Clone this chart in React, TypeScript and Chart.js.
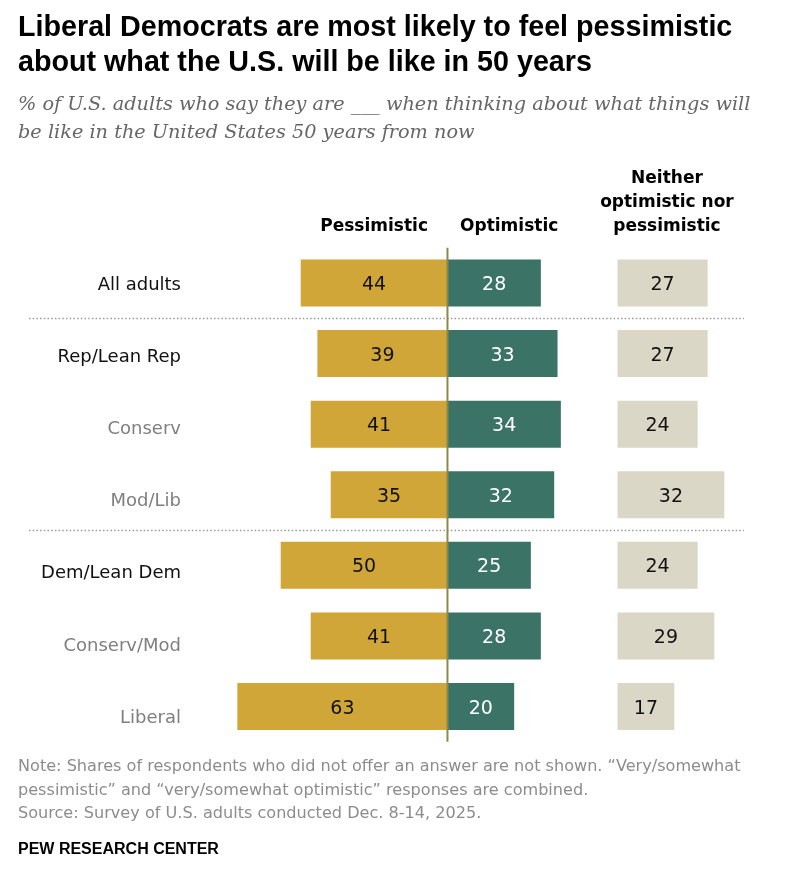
import React, { useEffect, useRef } from "react";
import { Chart, registerables } from "chart.js";

Chart.register(...registerables);

// ---------- data ----------
const categories = [
  "All adults",
  "Rep/Lean Rep",
  "Conserv",
  "Mod/Lib",
  "Dem/Lean Dem",
  "Conserv/Mod",
  "Liberal",
];
const isSubgroup = [false, false, true, true, false, true, true];
const pessimistic = [44, 39, 41, 35, 50, 41, 63];
const optimistic = [28, 33, 34, 32, 25, 28, 20];
const neither = [27, 27, 24, 32, 24, 29, 17];
const separatorsAfter = [0, 3];
const columnHeaders = {
  pessimistic: ["Pessimistic"],
  optimistic: ["Optimistic"],
  neither: ["Neither", "optimistic nor", "pessimistic"],
};

// ---------- layout constants ----------
const NEITHER_OFFSET = 51;
const X_MIN = -70;
const X_MAX = 100;

const COLORS = {
  pess: "#D1A638",
  opt: "#3B7466",
  neither: "#DAD7C7",
  axis: "#8C8A4A",
  dots: "#9a9a9a",
  label: "#111111",
  subLabel: "#7f7f7f",
};

const decorPlugin = {
  id: "pewDecor",
  afterDatasetsDraw(chart: any) {
    const { ctx, chartArea, scales } = chart;
    const xs = scales.x;
    const ys = scales.y;
    ctx.save();

    // separators (dotted)
    ctx.strokeStyle = COLORS.dots;
    ctx.lineWidth = 1.5;
    ctx.setLineDash([1.5, 2.2]);
    separatorsAfter.forEach((i) => {
      const y = (ys.getPixelForValue(i) + ys.getPixelForValue(i + 1)) / 2;
      ctx.beginPath();
      ctx.moveTo(29, Math.round(y) + 0.5);
      ctx.lineTo(744, Math.round(y) + 0.5);
      ctx.stroke();
    });
    ctx.setLineDash([]);

    // value labels
    const fmt = [
      { data: pessimistic, color: "#111111" },
      { data: optimistic, color: "#ffffff" },
      { data: neither, color: "#111111" },
    ];
    ctx.font = '19px "DejaVu Sans"';
    ctx.textAlign = "center";
    ctx.textBaseline = "alphabetic";
    fmt.forEach((f, di) => {
      const meta = chart.getDatasetMeta(di);
      meta.data.forEach((bar: any, j: number) => {
        const p = bar.getProps(["x", "base", "y"], true);
        const cx = (p.x + p.base) / 2;
        ctx.fillStyle = f.color;
        ctx.fillText(String(f.data[j]), cx, p.y + 7);
      });
    });

    // center line
    const x0 = xs.getPixelForValue(0);
    ctx.strokeStyle = COLORS.axis;
    ctx.lineWidth = 2;
    ctx.beginPath();
    ctx.moveTo(x0, chartArea.top);
    ctx.lineTo(x0, chartArea.bottom);
    ctx.stroke();

    // row labels
    ctx.font = '18px "DejaVu Sans"';
    ctx.textAlign = "right";
    categories.forEach((c, j) => {
      const y = ys.getPixelForValue(j) + j * 1.6;
      ctx.fillStyle = isSubgroup[j] ? COLORS.subLabel : COLORS.label;
      ctx.fillText(c, 181, y + 6.6);
    });

    // column headers
    ctx.font = 'bold 17px "DejaVu Sans"';
    ctx.textAlign = "center";
    ctx.fillStyle = "#000000";
    const headerBase = 231;
    const lh = 24;
    const drawHeader = (lines: string[], x: number) => {
      lines.forEach((t, k) => {
        ctx.fillText(t, x, headerBase - (lines.length - 1 - k) * lh);
      });
    };
    drawHeader(columnHeaders.pessimistic, xs.getPixelForValue(-22));
    drawHeader(columnHeaders.optimistic, xs.getPixelForValue(18.5));
    drawHeader(columnHeaders.neither, xs.getPixelForValue(NEITHER_OFFSET + 14.8));

    ctx.restore();
  },
};

export default function App() {
  const canvasRef = useRef<HTMLCanvasElement | null>(null);

  useEffect(() => {
    if (!canvasRef.current) return;
    const chart = new Chart(canvasRef.current, {
      type: "bar",
      data: {
        labels: categories,
        datasets: [
          {
            label: "Pessimistic",
            data: pessimistic.map((v) => [-v, 0]) as any,
            backgroundColor: COLORS.pess,
            grouped: false,
            barPercentage: 0.666,
            categoryPercentage: 1,
          },
          {
            label: "Optimistic",
            data: optimistic.map((v) => [0, v]) as any,
            backgroundColor: COLORS.opt,
            grouped: false,
            barPercentage: 0.666,
            categoryPercentage: 1,
          },
          {
            label: "Neither optimistic nor pessimistic",
            data: neither.map((v) => [NEITHER_OFFSET, NEITHER_OFFSET + v]) as any,
            backgroundColor: COLORS.neither,
            grouped: false,
            barPercentage: 0.666,
            categoryPercentage: 1,
          },
        ],
      },
      options: {
        indexAxis: "y",
        responsive: false,
        animation: false,
        devicePixelRatio: 1,
        layout: { padding: { left: 214, right: 17, top: 247.7, bottom: 138.2 } },
        scales: {
          x: { type: "linear", min: X_MIN, max: X_MAX, display: false },
          y: { type: "category", display: false },
        },
        plugins: {
          legend: { display: false },
          tooltip: { enabled: false },
        },
      },
      plugins: [decorPlugin],
    });
    return () => chart.destroy();
  }, []);

  const abs = (s: React.CSSProperties): React.CSSProperties => ({
    position: "absolute",
    left: 18,
    whiteSpace: "nowrap",
    margin: 0,
    ...s,
  });

  return (
    <div style={{ position: "absolute", left: 0, top: 0, width: 798, height: 880, background: "#fff" }}>
      <canvas ref={canvasRef} width={798} height={880} style={{ position: "absolute", left: 0, top: 0 }} />
      <div
        style={abs({
          top: 8.6,
          font: 'bold 28.7px "Liberation Sans", Arial, sans-serif',
          lineHeight: "35px",
          color: "#000",
        })}
      >
        Liberal Democrats are most likely to feel pessimistic
        <br />
        about what the U.S. will be like in 50 years
      </div>
      <div
        style={abs({
          top: 90,
          font: 'italic 19.3px "DejaVu Serif", Georgia, serif',
          lineHeight: "28px",
          color: "#666",
        })}
      >
        % of U.S. adults who say they are ___ when thinking about what things will
        <br />
        be like in the United States 50 years from now
      </div>
      <div
        style={abs({
          top: 754,
          font: '16.1px "DejaVu Sans", sans-serif',
          lineHeight: "23.5px",
          color: "#8c8c8c",
        })}
      >
        Note: Shares of respondents who did not offer an answer are not shown. “Very/somewhat
        <br />
        pessimistic” and “very/somewhat optimistic” responses are combined.
        <br />
        Source: Survey of U.S. adults conducted Dec. 8-14, 2025.
      </div>
      <div
        style={abs({
          top: 838.5,
          font: 'bold 16px "Liberation Sans", Arial, sans-serif',
          lineHeight: "20px",
          color: "#000",
        })}
      >
        PEW RESEARCH CENTER
      </div>
    </div>
  );
}
